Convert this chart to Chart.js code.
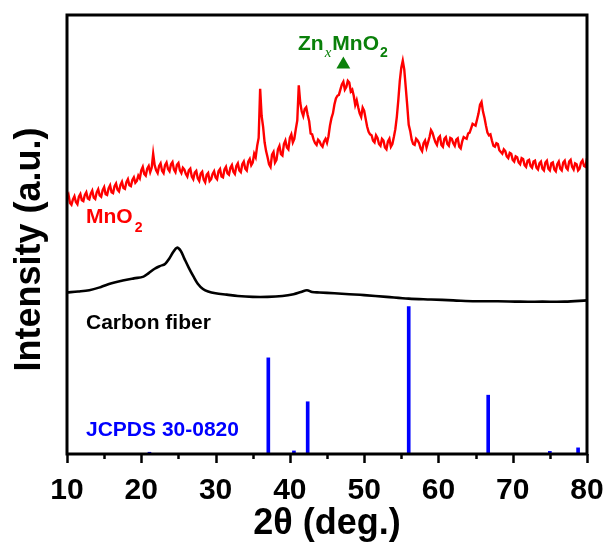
<!DOCTYPE html>
<html><head><meta charset="utf-8">
<script src="https://cdn.jsdelivr.net/npm/chart.js@4.4.0/dist/chart.umd.min.js"></script>
<style>html,body{margin:0;padding:0;background:#fff;overflow:hidden}</style>
</head><body>
<canvas id="c" width="605" height="542"></canvas>
<script>
// ---- data (2θ in degrees, intensity in arbitrary offset units 0-100) ----
const xMajorTicks = [10, 20, 30, 40, 50, 60, 70, 80];
const xMinorTicks = [15, 25, 35, 45, 55, 65, 75];

// MnO2 pattern, sampled every 0.2° from 10° to 80°
const redStart = 10, redStep = 0.2;
const redIntensity = [
 58.5,59.1,57.2,56.8,58.0,58.7,57.4,56.9,58.6,59.2,57.8,57.6,59.0,59.6,58.2,58.0,59.3,60.0,58.4,58.1,
 59.6,60.3,58.9,58.6,60.1,60.8,59.2,59.0,60.5,61.2,59.6,59.4,61.0,61.6,60.2,59.8,61.3,62.0,60.6,60.4,
 61.9,62.6,61.2,61.0,62.4,63.0,61.8,62.2,63.4,62.8,64.6,65.4,63.8,63.4,65.0,65.6,64.2,65.2,68.4,65.8,
 64.6,64.0,65.6,66.2,64.5,64.0,65.8,66.4,64.9,64.4,66.0,66.5,64.8,64.2,65.9,66.3,64.6,64.0,65.2,64.8,
 63.8,63.2,64.6,65.0,63.2,62.6,64.1,64.5,62.8,62.2,63.9,64.3,62.5,61.9,63.6,64.0,62.2,62.6,63.8,64.4,
 63.0,62.6,64.4,64.9,63.2,63.0,64.8,65.4,63.9,63.6,65.2,65.8,64.3,63.8,65.6,66.2,64.6,64.2,66.0,66.6,
 65.0,64.6,66.6,67.2,65.8,66.4,68.4,67.6,70.2,72.0,83.2,77.0,74.5,71.0,69.0,67.6,66.0,65.4,68.2,68.8,
 66.4,67.0,69.4,70.2,68.3,68.0,70.6,71.4,69.8,69.4,72.0,72.8,71.0,71.8,74.0,76.0,84.0,80.0,78.0,77.0,
 78.6,79.0,77.2,75.8,73.0,72.8,71.6,70.8,70.4,71.6,71.2,70.4,70.0,71.2,71.8,70.9,72.4,74.8,76.5,77.6,
 79.6,81.0,81.6,81.8,83.0,84.2,84.8,83.0,83.6,85.0,84.6,82.6,83.0,81.6,79.5,80.6,79.0,77.6,76.8,78.9,
 78.2,76.4,74.6,73.4,72.8,72.6,71.4,71.0,72.6,72.0,70.6,70.2,71.8,71.4,69.8,69.4,71.2,71.8,70.0,70.6,
 72.2,74.0,76.8,80.6,85.0,88.0,89.6,87.6,83.5,79.4,75.0,73.6,71.6,70.6,70.4,71.8,71.4,70.8,69.6,69.0,
 70.8,71.4,69.8,71.0,72.2,73.8,73.2,72.0,71.0,70.4,72.0,72.4,70.4,70.0,71.8,72.2,70.6,70.2,72.0,71.8,
 70.8,70.2,71.6,71.9,70.0,69.6,71.2,72.2,72.0,71.8,73.0,73.2,74.2,75.2,75.0,74.8,76.2,77.6,79.6,80.2,
 78.0,76.6,74.8,73.2,72.6,72.8,71.4,70.2,70.0,70.8,70.6,69.2,68.8,68.4,69.4,69.0,67.8,67.4,68.6,68.4,
 67.0,66.6,67.8,67.6,66.4,66.0,67.4,67.2,65.8,65.4,66.8,67.0,65.6,65.2,66.6,66.8,65.2,64.8,66.2,66.6,
 65.0,64.6,66.4,66.8,65.0,64.6,66.2,66.4,64.8,64.4,66.0,66.6,65.0,64.6,66.4,66.8,65.2,64.8,66.6,67.0,
 65.4,64.8,66.2,66.0,64.6,65.0,66.4,66.9,65.6,65.4,67.4
];
const redAngles = redIntensity.map((_, i) => +(redStart + redStep * i).toFixed(2));

// Carbon fiber pattern
const carbonAngles = [10,11.5,13,14.5,16,17.5,19,20.3,21,21.8,22.5,23.2,23.8,24.3,24.8,25.3,25.8,26.4,27,27.6,28.3,29,30,31.5,33,35,37,39,40.5,41.5,42.3,43,44,46,48,50,53,56,59,62,65,68,71,74,77,80];
const carbonIntensity = [36.8,37.0,37.3,38.0,38.9,39.5,40.0,40.4,41.2,42.2,42.8,43.3,44.6,46.0,47.0,46.3,44.5,42.4,40.5,38.8,37.6,37.0,36.6,36.3,36.0,35.8,35.8,36.0,36.4,36.9,37.3,36.9,36.8,36.6,36.4,36.2,35.8,35.4,35.2,35.0,34.8,34.8,34.7,34.7,34.7,35.0];

// JCPDS 30-0820 reference lines
const stickAngles = [21.1, 37.1, 40.55, 42.4, 56.0, 66.7, 75.0, 78.8];
const stickIntensity = [0.4, 21.9, 0.7, 11.9, 33.6, 13.4, 0.6, 1.4];

// ZnxMnO2 marker
const markerAngles = [47.2];
const markerIntensity = [88.7];

const FONT = "'Liberation Sans', Arial, Helvetica, sans-serif";

const decor = {
  id: 'decor',
  afterDraw(chart) {
    const {ctx, chartArea: a, scales: {x, y}} = chart;
    ctx.save();
    ctx.strokeStyle = '#000';
    ctx.lineWidth = 2.5;
    const tick = (v, len) => {
      const px = Math.round(x.getPixelForValue(v)) + 0.5;
      ctx.beginPath(); ctx.moveTo(px, a.bottom); ctx.lineTo(px, a.bottom + len); ctx.stroke();
    };
    xMajorTicks.forEach(v => tick(v, 9));
    xMinorTicks.forEach(v => tick(v, 5));
    ctx.lineWidth = 3;
    ctx.strokeRect(a.left, a.top, a.right - a.left, a.bottom - a.top);

    const rich = (deg, val, color, parts) => {
      let px = x.getPixelForValue(deg);
      const py = y.getPixelForValue(val);
      ctx.fillStyle = color;
      ctx.textBaseline = 'alphabetic';
      ctx.textAlign = 'left';
      parts.forEach(p => {
        ctx.font = p.font;
        px += (p.gap || 0);
        ctx.fillText(p.t, px, py + (p.dy || 0));
        px += ctx.measureText(p.t).width;
      });
    };
    const B = s => `bold ${s}px ${FONT}`;
    rich(12.56, 52.6, '#ff0000', [{t: 'MnO', font: B(21)}, {t: '2', font: B(14), dy: 9, gap: 2}]);
    rich(12.56, 28.5, '#000000', [{t: 'Carbon fiber', font: B(21)}]);
    rich(12.56, 4.1, '#0000ff', [{t: 'JCPDS 30-0820', font: B(21)}]);
    rich(41.1, 92.0, '#0a800a', [
      {t: 'Zn', font: B(21)},
      {t: 'x', font: `italic 15px 'Liberation Serif', 'Times New Roman', serif`, dy: 7, gap: 1},
      {t: 'MnO', font: B(21), gap: 1},
      {t: '2', font: B(14), dy: 7, gap: 1}
    ]);
    ctx.restore();
  }
};

new Chart(document.getElementById('c'), {
  type: 'line',
  data: {
    datasets: [
      {
        label: 'MnO2',
        data: redAngles.map((a, i) => ({x: a, y: redIntensity[i]})),
        borderColor: '#ff0000', borderWidth: 2.4, pointRadius: 0, tension: 0, fill: false
      },
      {
        label: 'Carbon fiber',
        data: carbonAngles.map((a, i) => ({x: a, y: carbonIntensity[i]})),
        borderColor: '#000000', borderWidth: 2.6, pointRadius: 0, tension: 0.35, fill: false
      },
      {
        type: 'bar',
        label: 'JCPDS 30-0820',
        data: stickAngles.map((a, i) => ({x: a, y: stickIntensity[i]})),
        backgroundColor: '#0000ff', borderWidth: 0, barThickness: 3, grouped: false
      },
      {
        type: 'scatter',
        label: 'ZnxMnO2',
        data: markerAngles.map((a, i) => ({x: a, y: markerIntensity[i]})),
        pointStyle: 'triangle', pointRadius: 8, pointHoverRadius: 8,
        backgroundColor: '#0a800a', borderColor: '#0a800a', borderWidth: 0
      }
    ]
  },
  options: {
    responsive: false,
    animation: false,
    devicePixelRatio: 1,
    layout: {padding: {top: 15, right: 18, left: 0, bottom: 0}},
    plugins: {legend: {display: false}, tooltip: {enabled: false}},
    scales: {
      x: {
        type: 'linear', min: 10, max: 80, offset: false,
        afterBuildTicks: s => { s.ticks = xMajorTicks.map(v => ({value: v})); },
        afterFit: s => { s.height = 88; s.paddingLeft = 0; s.paddingRight = 0; },
        grid: {display: false},
        border: {display: false},
        ticks: {color: '#000', font: {family: FONT, size: 30, weight: 'bold'}, padding: 11, maxRotation: 0, autoSkip: false},
        title: {display: true, text: '2θ (deg.)', color: '#000', font: {family: FONT, size: 36, weight: 'bold'}, padding: {top: 0, bottom: -4}}
      },
      y: {
        type: 'linear', min: 0, max: 100,
        afterFit: s => { s.width = 67; s.paddingTop = 0; s.paddingBottom = 0; },
        grid: {display: false},
        border: {display: false},
        ticks: {display: false},
        title: {display: true, text: 'Intensity (a.u.)   ', color: '#000', font: {family: FONT, size: 36, weight: 'bold'}, padding: {top: 8, bottom: 0}}
      }
    }
  },
  plugins: [decor]
});
</script>
</body></html>
